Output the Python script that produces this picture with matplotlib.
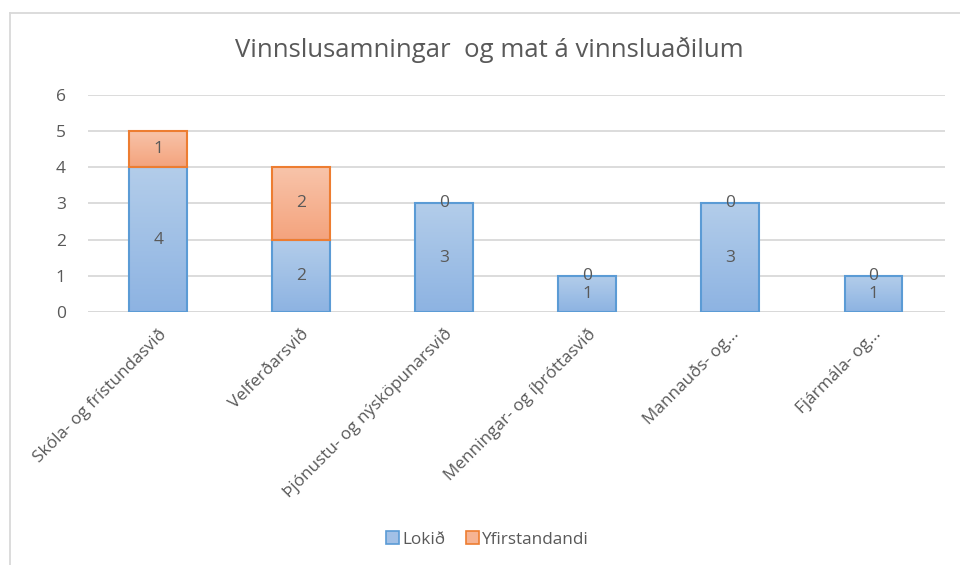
import numpy as np
import matplotlib.pyplot as plt
from matplotlib.colors import LinearSegmentedColormap
from matplotlib.patches import Patch
from matplotlib.lines import Line2D

categories = ['Skóla- og frístundasvið', 'Velferðarsvið', 'Þjónustu- og nýsköpunarsvið',
              'Menningar- og íþróttasvið', 'Mannauðs- og...', 'Fjármála- og...']
lokid = [4, 2, 3, 1, 3, 1]
yfirstandandi = [1, 2, 0, 0, 0, 0]
yticks = [0, 1, 2, 3, 4, 5, 6]

plt.rcParams['font.family'] = ['Open Sans', 'DejaVu Sans']
gray = '#595959'

blue_cmap = LinearSegmentedColormap.from_list('b', ['#8db3e2', '#b3cdea'])
orange_cmap = LinearSegmentedColormap.from_list('o', ['#f4a37d', '#f8c4aa'])

fig = plt.figure(figsize=(9.6, 5.65), dpi=100)
ax = fig.add_axes([0.0917, 0.4478, 0.8927, 0.3841])

x = np.arange(len(categories))
width = 0.405
grad = np.linspace(0, 1, 256).reshape(-1, 1)


def gradient_bars(bottoms, heights, cmap, edge):
    for xi, b0, h in zip(x, bottoms, heights):
        if h <= 0:
            continue
        bar = ax.bar(xi, h, width, bottom=b0, color='none',
                     edgecolor=edge, linewidth=1.5, zorder=3)[0]
        x0 = bar.get_x()
        im = ax.imshow(grad, cmap=cmap, origin='lower', aspect='auto',
                       extent=[x0, x0 + width, b0, b0 + h], zorder=2)
        im.set_clip_path(bar)


gradient_bars([0] * len(x), lokid, blue_cmap, '#5b9bd5')
gradient_bars(lokid, yfirstandandi, orange_cmap, '#ed7d31')

for i in range(len(x)):
    ax.text(x[i], lokid[i] / 2, str(lokid[i]), ha='center', va='center',
            fontsize=12.5, color=gray, zorder=4)
    ax.text(x[i], lokid[i] + yfirstandandi[i] / 2, str(yfirstandandi[i]),
            ha='center', va='center', fontsize=12.5, color=gray, zorder=4)

ax.set_xlim(-0.49, 5.5)
ax.set_ylim(0, 6)
ax.set_yticks(yticks)
ax.set_yticklabels([str(t) for t in yticks], fontsize=12.5, color=gray)
ax.set_xticks(x)
ax.set_xticklabels(categories, rotation=45, ha='right', rotation_mode='anchor',
                   fontsize=12.3, color=gray)
ax.tick_params(axis='y', length=0, pad=16)
ax.tick_params(axis='x', length=0, pad=10)
ax.yaxis.grid(True, color='#d9d9d9', linewidth=1.3, zorder=0)
for s in ax.spines.values():
    s.set_visible(False)
ax.axhline(0, color='#d9d9d9', linewidth=1.3, zorder=1)

fig.text(0.51, 0.912, 'Vinnslusamningar  og mat á vinnsluaðilum', ha='center',
         va='center', fontsize=18.5, color=gray)

handles = [Patch(facecolor='#a2c0e6', edgecolor='#5b9bd5', linewidth=1.2),
           Patch(facecolor='#f6b393', edgecolor='#ed7d31', linewidth=1.2)]
fig.legend(handles, ['Lokið', 'Yfirstandandi'], loc='center',
           bbox_to_anchor=(0.508, 0.045), ncol=2, frameon=False,
           fontsize=12.3, labelcolor=gray, handlelength=0.75, handleheight=0.75,
           handletextpad=0.2, columnspacing=1.2)

# chart frame (top and left edges visible)
fig.add_artist(Line2D([10 / 960, 1], [1 - 13 / 565] * 2, color='#d9d9d9', linewidth=1.3))
fig.add_artist(Line2D([10 / 960] * 2, [0, 1 - 13 / 565], color='#d9d9d9', linewidth=1.3))

fig.savefig('out.png', dpi=100)
